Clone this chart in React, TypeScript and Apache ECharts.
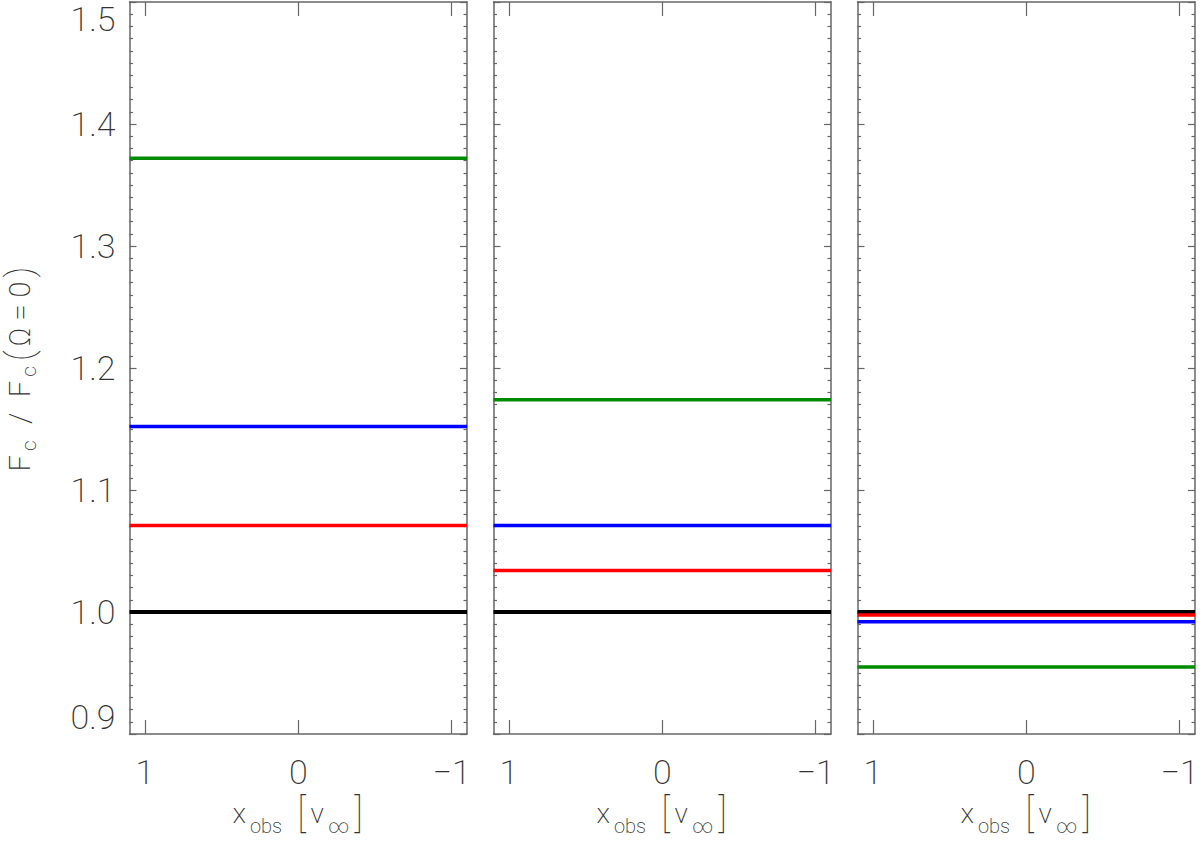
import { useEffect, useRef } from 'react';
import * as echarts from 'echarts';

const xEnds = [1.1, -1.1];
const xTickValues = [-1, 0, 1];
const panelNames = ['left', 'middle', 'right'];
const blackLevels = [1.0, 1.0, 1.0];
const redLevels = [1.071, 1.034, 0.9975];
const blueLevels = [1.152, 1.071, 0.992];
const greenLevels = [1.372, 1.174, 0.955];

const FONT = 'Roboto';
const TXT = '#333';
const FRAME = '#666';
const W8 = 200;

export default function App() {
  const ref = useRef<HTMLDivElement>(null);
  useEffect(() => {
    if (!ref.current) return;
    const chart = echarts.init(ref.current, null, { renderer: 'svg' });
    const lefts = [129.5, 493.5, 857.5];
    const W = 337.5;
    const grids = lefts.map((l) => ({ left: l, width: W, top: 2, height: 732, outerBoundsMode: 'none', containLabel: false }));
    const xAxes: any[] = [];
    const yAxes: any[] = [];
    const series: any[] = [];
    const fmt = (v: number) => (v < 0 ? '\u2212' + Math.abs(v) : String(v));
    const xRich = {
      m: { fontSize: 28, fontFamily: FONT, fontWeight: W8, color: TXT, lineHeight: 44, verticalAlign: 'middle', padding: [0, 2, 0, 2] },
      s: { fontSize: 20, fontFamily: FONT, fontWeight: W8, color: TXT, lineHeight: 20, verticalAlign: 'bottom', padding: [0, 2, 0, 2] },
      b: { fontSize: 40, fontFamily: FONT, fontWeight: 100, color: TXT, lineHeight: 44, verticalAlign: 'middle', padding: [0, 3, 0, 3] },
    };
    const yRich = {
      m: { fontSize: 29, fontFamily: FONT, fontWeight: W8, color: TXT, lineHeight: 40, verticalAlign: 'middle', padding: [0, 1, 0, 1] },
      s: { fontSize: 21, fontFamily: FONT, fontWeight: W8, color: TXT, lineHeight: 21, verticalAlign: 'bottom', padding: [0, 2, 0, 3] },
      p: { fontSize: 36, fontFamily: FONT, fontWeight: 100, color: TXT, lineHeight: 40, verticalAlign: 'middle', padding: [0, 3, 0, 3] },
    };
    panelNames.forEach((_, i) => {
      xAxes.push({
        gridIndex: i,
        type: 'value',
        min: -1.1,
        max: 1.1,
        inverse: true,
        position: 'bottom',
        axisLine: { show: true, onZero: false, lineStyle: { color: FRAME, width: 1.5 } },
        axisTick: { show: true, inside: true, length: 14, customValues: xTickValues, lineStyle: { color: FRAME, width: 1.2 } },
        axisLabel: {
          show: true,
          customValues: xTickValues,
          formatter: fmt,
          fontSize: 34,
          fontFamily: FONT,
          fontWeight: W8,
          color: TXT,
          margin: 21,
        },
        splitLine: { show: false },
        name: '{m|x}{s|obs}   {b|[}{m|v}{s|\u221e}{b|]}',
        nameLocation: 'middle',
        nameGap: 57,
        nameTextStyle: { rich: xRich },
      });
      xAxes.push({
        gridIndex: i,
        type: 'value',
        min: -1.1,
        max: 1.1,
        inverse: true,
        position: 'top',
        axisLine: { show: true, onZero: false, lineStyle: { color: FRAME, width: 1.5 } },
        axisTick: { show: true, inside: true, length: 14, customValues: xTickValues, lineStyle: { color: FRAME, width: 1.2 } },
        axisLabel: { show: false },
        splitLine: { show: false },
      });
      const yBase = {
        gridIndex: i,
        type: 'value',
        min: 0.9,
        max: 1.5,
        interval: 0.1,
        axisLine: { show: true, onZero: false, lineStyle: { color: FRAME, width: 1.5 } },
        axisTick: { show: true, inside: true, length: 7, lineStyle: { color: FRAME, width: 1.2 } },
        minorTick: { show: true, splitNumber: 10, length: 3.5, lineStyle: { color: FRAME, width: 1.2 } },
        splitLine: { show: false },
        minorSplitLine: { show: false },
      };
      yAxes.push({
        ...yBase,
        position: 'left',
        axisLabel: {
          show: i === 0,
          formatter: (v: number) => v.toFixed(1),
          fontSize: 34,
          fontFamily: FONT,
          fontWeight: W8,
          color: TXT,
          margin: 14,
          verticalAlignMinLabel: 'bottom',
          verticalAlignMaxLabel: 'top',
        },
        name: i === 0 ? '{m|F}{s|c}    {m|/}    {m|F}{s|c}{p|(}{m|\u03a9 = 0}{p|)}' : '',
        nameLocation: 'middle',
        nameGap: 90,
        nameTextStyle: { rich: yRich },
      });
      yAxes.push({ ...yBase, position: 'right', axisLabel: { show: false } });
      const levels = [
        { v: blackLevels[i], c: '#000000', w: 4 },
        { v: redLevels[i], c: '#ff0000', w: 3.5 },
        { v: blueLevels[i], c: '#0000ff', w: 3.5 },
        { v: greenLevels[i], c: '#008a00', w: 3.5 },
      ];
      levels.forEach((lv) => {
        series.push({
          type: 'line',
          xAxisIndex: i * 2,
          yAxisIndex: i * 2,
          data: xEnds.map((x) => [x, lv.v]),
          showSymbol: false,
          symbol: 'none',
          lineStyle: { color: lv.c, width: lv.w },
          silent: true,
        });
      });
    });
    chart.setOption({
      animation: false,
      backgroundColor: '#ffffff',
      grid: grids,
      xAxis: xAxes,
      yAxis: yAxes,
      series,
    });
    return () => chart.dispose();
  }, []);
  return <div ref={ref} style={{ position: 'fixed', left: 0, top: 0, width: 1200, height: 841 }} />;
}
